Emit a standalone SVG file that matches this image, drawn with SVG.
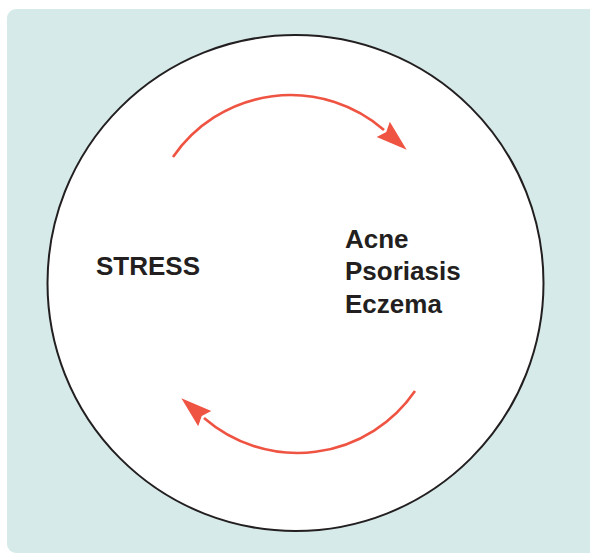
<svg xmlns="http://www.w3.org/2000/svg" width="590" height="555" viewBox="0 0 590 555">
<style>
.lbl{font-family:"Liberation Sans",Arial,sans-serif;font-weight:bold;font-size:26px;fill:#231f20}
.arc{fill:none;stroke:#ef5443;stroke-width:2.6}
</style>
<defs>
<marker id="ah" markerUnits="userSpaceOnUse" markerWidth="31" markerHeight="22" viewBox="0 0 31 22" refX="1" refY="11" orient="auto">
<path d="M0,1 L31,11 L0,21 L4,11 z" fill="#ef5443"/>
</marker>
</defs>
<rect x="7" y="9" width="600" height="544" rx="9" fill="#d6ebe9"/>
<g id="cycle">
<circle cx="295.5" cy="283" r="248" fill="#fff" stroke="#231f20" stroke-width="2"/>
</g>
<g id="stress">
<text class="lbl" x="96" y="275">STRESS</text>
</g>
<g id="conditions">
<text class="lbl" x="345" y="248">Acne</text>
<text class="lbl" x="345" y="280">Psoriasis</text>
<text class="lbl" x="345" y="313">Eczema</text>
</g>
<g id="connectors">
<path class="arc" d="M173,157 A142.5,142.5 0 0 1 384,130" marker-end="url(#ah)"/>
<path class="arc" d="M415,391 A142.5,142.5 0 0 1 204,418" marker-end="url(#ah)"/>
</g>
</svg>
